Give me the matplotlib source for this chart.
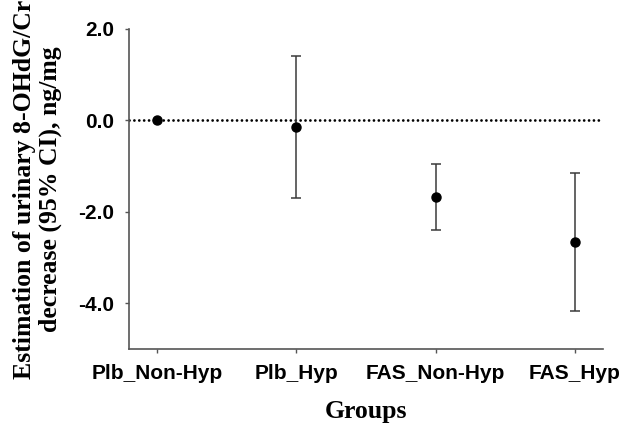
import matplotlib
matplotlib.use("Agg")
import matplotlib.pyplot as plt

groups = ["Plb_Non-Hyp", "Plb_Hyp", "FAS_Non-Hyp", "FAS_Hyp"]
estimate = [0.0, -0.14, -1.67, -2.67]
ci_upper = [0.0, 1.40, -0.96, -1.16]
ci_lower = [0.0, -1.69, -2.39, -4.18]
y_ticks = [2.0, 0.0, -2.0, -4.0]

fig = plt.figure(figsize=(6.21, 4.26), dpi=100)
ax = fig.add_axes([0.208, 0.181, 0.7625, 0.751])

x = list(range(1, len(groups) + 1))
ax.axhline(0, color="black", linestyle=(0, (0.01, 1.75)), linewidth=2.0,
           dash_capstyle="round", zorder=1)

for xi, e, lo, hi in zip(x, estimate, ci_lower, ci_upper):
    if hi != lo:
        ax.errorbar([xi], [e], yerr=[[e - lo], [hi - e]], fmt="none",
                    ecolor="#3a3a3a", elinewidth=1.1, capsize=3.6, capthick=1.1, zorder=2)
ax.plot(x, estimate, "o", color="black", markersize=6.5, linestyle="none", zorder=3)

ax.set_xlim(0.8, 4.2)
ax.set_ylim(-5.0, 2.0)
ax.set_xticks(x)
ax.set_xticklabels(groups, fontfamily="Liberation Sans", fontweight="bold", fontsize=15)
ax.set_yticks(y_ticks)
ax.set_yticklabels([f"{v:.1f}" for v in y_ticks], fontfamily="Liberation Sans",
                   fontweight="bold", fontsize=15)

for s in ["top", "right"]:
    ax.spines[s].set_visible(False)
for s in ["left", "bottom"]:
    ax.spines[s].set_color("#555555")
    ax.spines[s].set_linewidth(1.2)
ax.tick_params(axis="both", direction="out", length=3, width=1, color="#555555")
ax.tick_params(axis="x", pad=8)
ax.tick_params(axis="y", pad=8)

ax.set_ylabel("Estimation of urinary 8-OHdG/Cr\ndecrease (95% CI), ng/mg",
              fontfamily="Liberation Serif", fontweight="bold", fontsize=18.5,
              linespacing=1.1, va="center", ha="center")
ax.yaxis.set_label_coords(0.0604, 0.556, transform=fig.transFigure)
ax.set_xlabel("Groups", fontfamily="Liberation Serif", fontweight="bold", fontsize=18.5,
              va="baseline")
ax.xaxis.set_label_coords(0.5, -0.215, transform=ax.transAxes)

fig.savefig("out.png", dpi=100)
